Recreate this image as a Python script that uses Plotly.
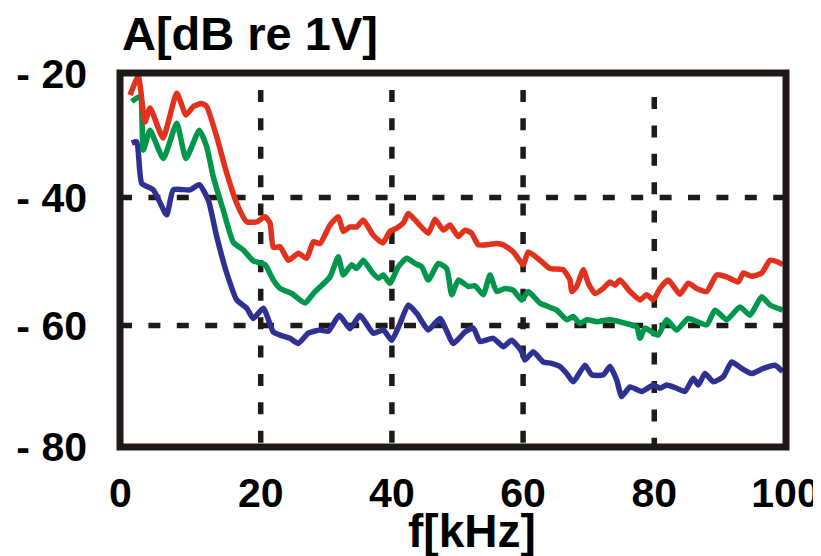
import plotly.graph_objects as go

# ---- data (frequency in kHz, amplitude in dB re 1V) ----
red_f = [0.08,1.34,2.36,3.13,5.11,7.20,8.61,9.73,11.0,11.77,13.29,14.82,16.34,17.87,19.39,20.66,21.42,21.92,22.94,24.21,
         24.97,25.73,27.01,28.02,29.04,30.56,31.83,32.59,33.61,34.63,35.64,37.16,38.60,39.71,40.73,41.74,42.50,43.52,45.55,46.57,
         47.84,48.86,50.12,51.14,52.16,53.17,55.98,56.98,58.51,60.03,60.79,62.58,64.10,66.13,67.15,67.41,68.17,69.18,69.94,70.96,
         72.23,73.25,74.01,74.77,76.30,77.82,78.84,79.85,80.87,82.13,83.91,85.18,86.46,87.99,89.51,91.04,92.80,93.57,94.85,96.37,
         97.64,98.66,99.57]
red_a = [-24.0,-21.1,-28.2,-26.0,-30.7,-23.7,-27.1,-25.8,-25.3,-25.8,-30.5,-36.2,-40.9,-43.8,-43.8,-43.0,-44.0,-47.8,-47.7,-49.8,
         -49.3,-48.7,-49.5,-46.9,-47.2,-44.3,-43.0,-45.3,-44.6,-44.6,-43.5,-45.9,-47.1,-45.3,-44.8,-44.0,-42.5,-43.5,-45.6,-43.4,
         -45.1,-44.3,-46.1,-45.1,-45.6,-47.4,-47.2,-47.4,-48.5,-50.5,-48.5,-49.8,-51.1,-51.3,-52.9,-54.7,-53.9,-51.3,-53.4,-55.0,
         -54.2,-53.2,-53.7,-52.9,-54.7,-56.0,-55.2,-56.0,-54.2,-52.9,-55.1,-53.4,-54.2,-54.7,-52.1,-52.4,-53.2,-51.8,-52.3,-51.8,
         -49.8,-50.0,-50.5]

green_f = [0.34,1.60,2.10,3.13,5.15,7.20,8.61,10.64,11.77,12.77,14.30,15.82,17.35,18.87,20.66,21.92,22.94,24.73,26.75,28.02,
           30.56,31.83,32.59,33.87,34.63,35.64,36.92,37.93,38.69,39.71,40.98,42.26,43.52,44.54,45.55,47.07,48.35,49.12,50.12,51.65,
           52.67,53.93,54.95,55.98,57.24,58.51,59.79,60.79,62.58,65.12,66.65,67.65,68.67,69.70,71.22,73.25,75.79,77.32,77.82,78.58,
           79.60,80.61,81.89,83.41,85.18,87.99,89.25,91.04,93.06,94.59,96.37,97.64,99.57]
green_a = [-25.0,-24.25,-32.6,-29.5,-33.9,-28.4,-33.9,-29.5,-32.1,-36.75,-42.0,-47.0,-48.2,-49.9,-50.5,-52.9,-54.2,-55.0,-56.5,-55.0,
           -52.4,-49.25,-52.1,-50.5,-51.1,-49.8,-51.6,-52.6,-52.1,-53.4,-50.8,-49.5,-50.3,-50.8,-52.9,-50.3,-51.1,-55.2,-52.9,-53.9,
           -53.8,-55.2,-52.1,-54.7,-54.2,-54.5,-56.0,-54.7,-56.5,-57.6,-59.1,-58.6,-59.7,-59.1,-59.4,-59.1,-59.7,-60.2,-62.0,-60.4,
           -61.0,-61.5,-59.1,-60.7,-58.9,-59.9,-57.6,-59.1,-57.1,-58.4,-55.5,-56.8,-57.6]

blue_f = [0.34,1.10,1.86,3.63,5.67,6.68,9.22,10.64,12.01,13.29,14.82,16.34,17.87,18.87,20.40,21.92,22.94,24.47,25.73,27.26,
          29.04,30.30,31.98,33.61,35.14,37.16,38.69,39.97,41.23,42.50,43.78,45.55,47.33,49.36,51.14,52.41,53.43,55.46,56.98,58.26,
          59.79,60.29,61.55,63.08,64.36,65.62,66.65,67.65,69.44,70.46,72.23,73.25,74.27,75.03,76.30,78.08,79.85,80.87,81.89,83.41,
          84.68,85.95,86.71,87.73,88.99,90.52,91.80,93.32,94.85,96.62,98.40,99.57]
blue_a = [-31.5,-31.3,-37.8,-38.8,-42.7,-38.8,-38.8,-38.0,-40.4,-46.1,-51.8,-56.0,-57.3,-58.9,-57.3,-61.0,-61.5,-62.0,-62.8,-61.2,
          -60.7,-60.9,-58.4,-60.5,-58.4,-61.2,-60.7,-62.3,-59.7,-56.8,-58.1,-60.7,-58.9,-62.8,-61.0,-60.4,-62.5,-62.0,-63.3,-62.3,
          -64.1,-65.4,-64.1,-65.7,-65.9,-66.4,-67.5,-68.8,-66.2,-67.7,-67.7,-66.4,-68.5,-71.1,-69.6,-70.3,-69.3,-69.8,-69.3,-69.8,
          -70.3,-68.25,-69.3,-67.5,-68.8,-68.0,-65.7,-66.7,-67.5,-66.7,-66.2,-67.2]

x_tick_vals = [-1.4, 20, 40, 60, 80, 100]
x_tick_text = ["0", "20", "40", "60", "80", "100"]
y_tick_vals = [-20.6, -40, -60, -78.95]
y_tick_text = ["- 20", "- 40", "- 60", "- 80"]
grid_x = [20, 40, 60, 80]
grid_y = [-40, -60]

X_RANGE = [-1.45, 100.08]
Y_RANGE = [-78.98, -20.55]

INK = "#1f1a17"
FONT = "Liberation Sans, Arial, sans-serif"

fig = go.Figure()
for f, a, c in [(blue_f, blue_a, "#2e3192"), (green_f, green_a, "#00964b"), (red_f, red_a, "#e2311d")]:
    fig.add_trace(go.Scatter(x=f, y=a, mode="lines",
                             line=dict(color=c, width=5.5, shape="spline", smoothing=0.5),
                             showlegend=False, hoverinfo="skip"))

shapes = []
for gx in grid_x:
    y_start = -24.3 if gx == 80 else -23.2
    shapes.append(dict(type="line", xref="x", yref="y", x0=gx, x1=gx, y0=y_start, y1=Y_RANGE[0],
                       line=dict(color=INK, width=5.5, dash="12px,16.4px"), layer="below"))
for gy in grid_y:
    shapes.append(dict(type="line", xref="x", yref="y", x0=X_RANGE[0], x1=X_RANGE[1], y0=gy, y1=gy,
                       line=dict(color=INK, width=5.5, dash="12px,16.4px"), layer="below"))
shapes.append(dict(type="rect", xref="paper", yref="paper", x0=0, x1=1, y0=0, y1=1,
                   line=dict(color=INK, width=7), layer="above"))

# page body has an 8px margin, so the figure is 8px smaller than the window
fig.update_layout(
    width=813, height=548,
    margin=dict(l=112, r=35, t=65, b=109, autoexpand=False),
    paper_bgcolor="white", plot_bgcolor="white",
    shapes=shapes,
    xaxis=dict(range=X_RANGE, tickvals=x_tick_vals, ticktext=x_tick_text, showgrid=False, zeroline=False,
               showline=False, ticks="", ticklabelstandoff=18, automargin=False,
               tickfont=dict(family=FONT, size=41, color="black", weight="bold")),
    yaxis=dict(range=Y_RANGE, tickvals=y_tick_vals, ticktext=y_tick_text, showgrid=False, zeroline=False,
               showline=False, ticks="", ticklabelstandoff=32, automargin=False,
               tickfont=dict(family=FONT, size=41, color="black", weight="bold")),
    annotations=[
        dict(text="A[dB re 1V]", xref="paper", yref="paper", x=0.0, y=1.105, xanchor="left", yanchor="middle",
             showarrow=False, font=dict(family=FONT, size=47, color="black", weight="bold")),
        dict(text="f[kHz]", xref="paper", yref="paper", x=0.5285, y=-0.225, xanchor="center", yanchor="middle",
             showarrow=False, font=dict(family=FONT, size=46, color="black", weight="bold")),
    ],
)

fig.write_html("out.html")
